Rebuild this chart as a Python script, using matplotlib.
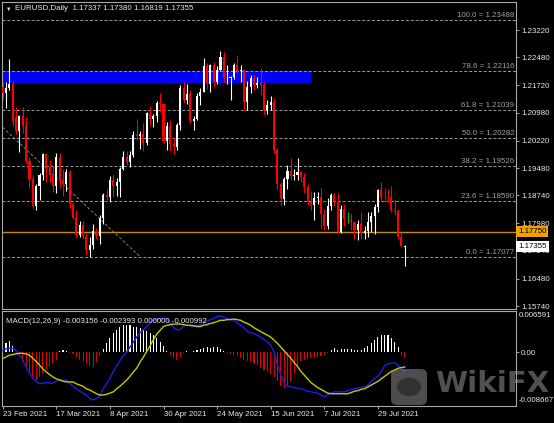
import matplotlib
matplotlib.use("Agg")
import matplotlib.pyplot as plt
import matplotlib.transforms as mtransforms
from matplotlib.patches import Rectangle, FancyBboxPatch, Circle

plt.rcParams['font.family'] = ['Liberation Sans', 'DejaVu Sans']

# ---- data --------------------------------------------------------------
date_labels = ["23 Feb 2021", "17 Mar 2021", "8 Apr 2021", "30 Apr 2021",
               "24 May 2021", "15 Jun 2021", "7 Jul 2021", "29 Jul 2021"]
date_bars = [0, 16, 32, 48, 64, 80, 96, 112]

opens = [
    1.2168, 1.2150, 1.2166, 1.2176, 1.2085, 1.2048, 1.2090, 1.2063, 1.1967, 1.1917,
    1.1846, 1.1899, 1.1928, 1.1985, 1.1952, 1.1930, 1.1900, 1.1977, 1.1915, 1.1904,
    1.1938, 1.1850, 1.1813, 1.1766, 1.1793, 1.1763, 1.1725, 1.1738, 1.1778, 1.1763,
    1.1813, 1.1874, 1.1870, 1.1915, 1.1900, 1.1910, 1.1946, 1.1979, 1.1965, 1.1982,
    1.2037, 1.2035, 1.2040, 1.2015, 1.2098, 1.2081, 1.2089, 1.2125, 1.2121, 1.2021,
    1.2062, 1.2013, 1.2004, 1.2065, 1.2164, 1.2132, 1.2149, 1.2075, 1.2080, 1.2144,
    1.2154, 1.2224, 1.2175, 1.2226, 1.2180, 1.2214, 1.2250, 1.2192, 1.2193, 1.2194,
    1.2227, 1.2211, 1.2213, 1.2127, 1.2167, 1.2193, 1.2173, 1.2179, 1.2174, 1.2106,
    1.2120, 1.2126, 1.1996, 1.1906, 1.1863, 1.1918, 1.1941, 1.1925, 1.1930, 1.1937,
    1.1924, 1.1896, 1.1857, 1.1848, 1.1866, 1.1870, 1.1823, 1.1790, 1.1845, 1.1875,
    1.1859, 1.1775, 1.1838, 1.1809, 1.1807, 1.1802, 1.1781, 1.1796, 1.1771, 1.1776,
    1.1801, 1.1817, 1.1842, 1.1888, 1.1870, 1.1869, 1.1867, 1.1835, 1.1832, 1.1762,
    1.17337]
highs = [
    1.2180, 1.2180, 1.2243, 1.2183, 1.2113, 1.2093, 1.2113, 1.2085, 1.1977, 1.1930,
    1.1905, 1.1935, 1.1990, 1.1990, 1.1970, 1.1953, 1.1988, 1.1990, 1.1945, 1.1944,
    1.1942, 1.1857, 1.1835, 1.1805, 1.1805, 1.1772, 1.1762, 1.1795, 1.1785, 1.1820,
    1.1880, 1.1892, 1.1927, 1.1930, 1.1920, 1.1950, 1.1995, 1.1994, 1.1995, 1.2049,
    1.2080, 1.2048, 1.2070, 1.2100, 1.2117, 1.2094, 1.2130, 1.2150, 1.2125, 1.2074,
    1.2078, 1.2032, 1.2071, 1.2173, 1.2181, 1.2177, 1.2160, 1.2090, 1.2150, 1.2165,
    1.2245, 1.2233, 1.2230, 1.2236, 1.2225, 1.2266, 1.2262, 1.2226, 1.2198, 1.2233,
    1.2255, 1.2228, 1.2216, 1.2185, 1.2200, 1.2200, 1.2195, 1.2218, 1.2182, 1.2133,
    1.2143, 1.2138, 1.2003, 1.1910, 1.1923, 1.1955, 1.1975, 1.1945, 1.1975, 1.1940,
    1.1935, 1.1905, 1.1885, 1.1882, 1.1884, 1.1895, 1.1838, 1.1868, 1.1880, 1.1880,
    1.1880, 1.1847, 1.1850, 1.1830, 1.1825, 1.1805, 1.1808, 1.1830, 1.1790, 1.1830,
    1.1830, 1.1850, 1.1892, 1.1909, 1.1893, 1.1891, 1.1900, 1.1865, 1.1838, 1.1775,
    1.17380]
lows = [
    1.2134, 1.2110, 1.2160, 1.2062, 1.2040, 1.1991, 1.2042, 1.1962, 1.1893, 1.1836,
    1.1835, 1.1860, 1.1915, 1.1910, 1.1910, 1.1882, 1.1880, 1.1895, 1.1873, 1.1885,
    1.1840, 1.1810, 1.1762, 1.1761, 1.1755, 1.1712, 1.17077, 1.1728, 1.1755, 1.1742,
    1.1795, 1.1860, 1.1857, 1.1870, 1.1871, 1.1870, 1.1942, 1.1955, 1.1952, 1.1978,
    1.2025, 1.2000, 1.1995, 1.2010, 1.2065, 1.2058, 1.2072, 1.2100, 1.2017, 1.1998,
    1.1995, 1.1987, 1.1996, 1.2050, 1.2125, 1.2122, 1.2070, 1.2052, 1.2078, 1.2118,
    1.2153, 1.2162, 1.2155, 1.2168, 1.2175, 1.2210, 1.2180, 1.2175, 1.2133, 1.2188,
    1.2205, 1.2180, 1.2105, 1.2104, 1.2150, 1.2160, 1.2165, 1.2145, 1.2093, 1.2095,
    1.2105, 1.1990, 1.1892, 1.1847, 1.1848, 1.1891, 1.1915, 1.1915, 1.1916, 1.1910,
    1.1880, 1.1847, 1.1835, 1.1807, 1.1850, 1.1782, 1.1780, 1.1782, 1.1835, 1.1845,
    1.1772, 1.1772, 1.1792, 1.1800, 1.1780, 1.1755, 1.1752, 1.1755, 1.1755, 1.1760,
    1.1775, 1.1770, 1.1830, 1.1858, 1.1857, 1.1855, 1.1830, 1.1820, 1.1755, 1.1735,
    1.16819]
closes = [
    1.2150, 1.2166, 1.2176, 1.2075, 1.2048, 1.2090, 1.2063, 1.1967, 1.1917, 1.1846,
    1.1899, 1.1928, 1.1985, 1.1952, 1.1930, 1.1900, 1.1977, 1.1915, 1.1904, 1.1938,
    1.1850, 1.1813, 1.1766, 1.1793, 1.1763, 1.1727, 1.1738, 1.1778, 1.1763, 1.1813,
    1.1874, 1.1870, 1.1915, 1.1900, 1.1910, 1.1946, 1.1979, 1.1965, 1.1982, 1.2037,
    1.2035, 1.2040, 1.2015, 1.2098, 1.2081, 1.2089, 1.2125, 1.2121, 1.2021, 1.2062,
    1.2013, 1.2004, 1.2065, 1.2164, 1.2132, 1.2149, 1.2075, 1.2080, 1.2144, 1.2154,
    1.2224, 1.2175, 1.2226, 1.2180, 1.2214, 1.2250, 1.2192, 1.2193, 1.2194, 1.2227,
    1.2211, 1.2213, 1.2127, 1.2167, 1.2193, 1.2173, 1.2179, 1.2174, 1.2106, 1.2120,
    1.2126, 1.1996, 1.1906, 1.1863, 1.1918, 1.1941, 1.1925, 1.1930, 1.1937, 1.1924,
    1.1896, 1.1857, 1.1848, 1.1866, 1.1870, 1.1823, 1.1790, 1.1845, 1.1875, 1.1859,
    1.1775, 1.1838, 1.1811, 1.1809, 1.1802, 1.1781, 1.1796, 1.1771, 1.1776, 1.1801,
    1.1817, 1.1842, 1.1888, 1.1870, 1.1869, 1.1867, 1.1835, 1.1832, 1.1762, 1.1736,
    1.17355]

fib_names = ["100.0", "78.6", "61.8", "50.0", "38.2", "23.6", "0.0"]
fib_prices = [1.23488, 1.22116, 1.21039, 1.20282, 1.19526, 1.18590, 1.17077]
fib_anchor_bars = [-34, 41]

zone_top, zone_bottom, zone_end_bar = 1.22116, 1.21792, 92
orange_level = 1.17750
last_price = 1.17355
price_ticks = [1.23220, 1.22480, 1.21720, 1.20980, 1.20220, 1.19480,
               1.18740, 1.17980, 1.17240, 1.16480, 1.15740]

macd_hist = [
    0.0010, 0.0014, 0.0017, 0.0010, -0.0002, -0.0008, -0.0016, -0.0026, -0.0036, -0.0044,
    -0.0045, -0.0040, -0.0033, -0.0028, -0.0024, -0.0018, -0.0012, 0.0002, 0.0003, 0.0002,
    -0.0001, -0.0003, -0.0008, -0.0012, -0.0015, -0.0018, -0.0022, -0.0024, -0.0016, -0.0006,
    0.0005, 0.0014, 0.0022, 0.0030, 0.0036, 0.0040, 0.0043, 0.0044, 0.0043, 0.0041,
    0.0040, 0.0039, 0.0037, 0.0034, 0.0031, 0.0027, 0.0022, 0.0016, 0.0010, 0.0001,
    -0.0004, -0.0010, -0.0012, -0.0008, -0.0001, 0.0002, 0.0000, 0.0001, 0.0003, 0.0005,
    0.0007, 0.0008, 0.0007, 0.0008, 0.0008, 0.0005, 0.0001, -0.0001, -0.0003, -0.0005,
    -0.0007, -0.0010, -0.0012, -0.0014, -0.0016, -0.0018, -0.0021, -0.0025, -0.0029, -0.0032,
    -0.0036, -0.0040, -0.0046, -0.0055, -0.0058, -0.0056, -0.0046, -0.0034, -0.0022, -0.0015,
    -0.0012, -0.0011, -0.0010, -0.0009, -0.0008, -0.0007, -0.0004, -0.0001, 0.0003, 0.0006,
    0.0004, 0.0005, 0.0005, 0.0005, 0.0005, 0.0004, 0.0004, 0.0004, 0.0006, 0.0009,
    0.0014, 0.0019, 0.0024, 0.0027, 0.0028, 0.0027, 0.0022, 0.0016, 0.0008, -0.0004,
    -0.000992]
macd_main = [
    0.0003, 0.0005, 0.0006, 0.0006, 0.0002, -0.0005, -0.0013, -0.0024, -0.0034, -0.0042,
    -0.0047, -0.0051, -0.0050, -0.0049, -0.0050, -0.0050, -0.0047, -0.0045, -0.0045, -0.0045,
    -0.0050, -0.0055, -0.0059, -0.0063, -0.0066, -0.0069, -0.0075, -0.0077, -0.0075, -0.0070,
    -0.0059, -0.0051, -0.0042, -0.0032, -0.0022, -0.0014, -0.0006, 0.0000, 0.0008, 0.0016,
    0.0024, 0.0031, 0.0036, 0.0041, 0.0047, 0.0051, 0.0053, 0.0054, 0.0054, 0.0054,
    0.0047, 0.0039, 0.0036, 0.0036, 0.0042, 0.0043, 0.0042, 0.0041, 0.0043, 0.0043,
    0.0047, 0.0050, 0.0052, 0.0054, 0.0057, 0.0058, 0.0056, 0.0054, 0.0053, 0.0051,
    0.0047, 0.0043, 0.0039, 0.0033, 0.0031, 0.0030, 0.0027, 0.0024, 0.0020, 0.0016,
    0.0011, 0.0000, -0.0021, -0.0037, -0.0050, -0.0054, -0.0056, -0.0057, -0.0058, -0.0059,
    -0.0061, -0.0063, -0.0064, -0.0065, -0.0066, -0.0069, -0.0072, -0.0069, -0.0066, -0.0064,
    -0.0064, -0.0064, -0.0064, -0.0062, -0.0060, -0.0059, -0.0058, -0.0057, -0.0056, -0.0053,
    -0.0047, -0.0043, -0.0039, -0.0031, -0.0022, -0.0019, -0.0018, -0.0017, -0.0021, -0.0026,
    -0.003156]
macd_signal = [
    -0.0010, -0.0008, -0.0005, -0.0004, -0.0003, -0.0002, -0.0002, -0.0003, -0.0005, -0.0010,
    -0.0015, -0.0021, -0.0027, -0.0032, -0.0036, -0.0040, -0.0043, -0.0045, -0.0047, -0.0048,
    -0.0048, -0.0048, -0.0051, -0.0053, -0.0055, -0.0059, -0.0061, -0.0064, -0.0067, -0.0069,
    -0.0069, -0.0068, -0.0066, -0.0064, -0.0059, -0.0055, -0.0050, -0.0045, -0.0039, -0.0032,
    -0.0026, -0.0016, -0.0008, 0.0001, 0.0010, 0.0020, 0.0029, 0.0035, 0.0041, 0.0043,
    0.0044, 0.0045, 0.0045, 0.0045, 0.0044, 0.0043, 0.0043, 0.0042, 0.0041, 0.0041,
    0.0043, 0.0044, 0.0046, 0.0047, 0.0049, 0.0051, 0.0051, 0.0052, 0.0052, 0.0053,
    0.0052, 0.0051, 0.0048, 0.0046, 0.0043, 0.0039, 0.0036, 0.0033, 0.0030, 0.0027,
    0.0024, 0.0019, 0.0014, 0.0008, 0.0002, -0.0004, -0.0010, -0.0017, -0.0023, -0.0031,
    -0.0037, -0.0043, -0.0049, -0.0053, -0.0057, -0.0060, -0.0063, -0.0066, -0.0067, -0.0067,
    -0.0067, -0.0067, -0.0067, -0.0067, -0.0065, -0.0063, -0.0062, -0.0060, -0.0059, -0.0056,
    -0.0053, -0.0050, -0.0047, -0.0043, -0.0039, -0.0035, -0.0031, -0.0029, -0.0026, -0.0025,
    -0.002393]
macd_max, macd_min = 0.006591, -0.008667

# ---- figure --------------------------------------------------------------
W, H = 554, 423
fig = plt.figure(figsize=(W / 100, H / 100), dpi=100, facecolor='black')
fg = '#e8e8e8'
border = '#a8a8a8'
fs = 5.7

ax = fig.add_axes([2 / W, 1 - 309 / H, 514 / W, 307 / H], facecolor='black')
ax2 = fig.add_axes([2 / W, 1 - 406 / H, 514 / W, 95 / H], facecolor='black', sharex=ax)

xmin, xmax = -0.2, 153.2
ax.set_xlim(xmin, xmax)
ax.set_ylim(1.15659, 1.23979)
ax2.set_ylim(macd_min, macd_max)

for a in (ax, ax2):
    for s in a.spines.values():
        s.set_color(border)
        s.set_linewidth(0.8)

# zone rectangle
ax.add_patch(Rectangle((xmin - 1, zone_bottom), zone_end_bar - xmin + 1,
                       zone_top - zone_bottom, facecolor='#0000ff',
                       edgecolor='none', zorder=1))

# fibonacci levels
for name, p in zip(fib_names, fib_prices):
    ax.axhline(p, color='#9a9a9a', lw=0.7, ls=(0, (3, 2)), zorder=2)
    ax.text(152.7, p + 0.0003, f"{name} = {p:.5f}", ha='right', va='bottom',
            fontsize=fs, color='#a0a0a0', zorder=3)
ax.plot(fib_anchor_bars, [fib_prices[0], fib_prices[-1]], color='#808080',
        lw=0.7, ls=(0, (3, 2)), zorder=2)

# orange level
ax.axhline(orange_level, color='#c88a00', lw=1.0, zorder=2)

# candles
for i, (o, h, l, c) in enumerate(zip(opens, highs, lows, closes)):
    if c > o:
        col = 'white'
    elif c < o:
        col = '#ff0000'
    else:
        col = '#00c000'
    ax.vlines(i, l, h, color=col, lw=0.8, zorder=4)
    body = max(abs(c - o), 0.00012)
    ax.bar(i, body, bottom=min(o, c), width=0.62, color=col, lw=0, zorder=5)

# price axis on the right
ax.yaxis.tick_right()
ax.set_yticks(price_ticks)
ax.set_yticklabels([f"{p:.5f}" for p in price_ticks])
ax.tick_params(axis='y', colors=border, labelcolor=fg, labelsize=fs,
               length=2.2, width=0.7, pad=1.5)
ax.tick_params(axis='x', bottom=False, labelbottom=False)

blend = mtransforms.blended_transform_factory(ax.transAxes, ax.transData)
ax.text(1.004, orange_level, "1.17750", transform=blend, ha='left', va='center',
        fontsize=fs, color='black', zorder=10,
        bbox=dict(boxstyle='square,pad=0.25', fc='#f0a000', ec='none'))
ax.text(1.004, last_price, "1.17355", transform=blend, ha='left', va='center',
        fontsize=fs, color='black', zorder=10,
        bbox=dict(boxstyle='square,pad=0.25', fc='white', ec='none'))

# MACD panel
for i, v in enumerate(macd_hist):
    ax2.bar(i, v, width=0.32, color='white' if v > 0 else '#e00000', lw=0, zorder=2)
xs = list(range(len(macd_main)))
ax2.plot(xs, macd_main, color='#1c1cf0', lw=1.0, zorder=3)
ax2.plot(xs, macd_signal, color='#c8c800', lw=1.0, zorder=3)

ax2.yaxis.tick_right()
ax2.set_yticks([0.0])
ax2.set_yticklabels(["0.00"])
ax2.tick_params(axis='y', colors=border, labelcolor=fg, labelsize=fs,
                length=2.2, width=0.7, pad=1.5)
ax2.text(1.006, 0.985, f"{macd_max:.6f}", transform=ax2.transAxes, ha='left',
         va='top', fontsize=fs, color=fg)
ax2.text(1.006, 0.02, f"{macd_min:.6f}", transform=ax2.transAxes, ha='left',
         va='bottom', fontsize=fs, color=fg)
ax2.text(0.008, 0.93, "MACD(12,26,9) -0.003156 -0.002393 0.000000 -0.000992",
         transform=ax2.transAxes, ha='left', va='top', fontsize=fs, color=fg)

ax2.set_xticks(date_bars)
ax2.set_xticklabels(date_labels)
for lab in ax2.get_xticklabels():
    lab.set_horizontalalignment('left')
ax2.tick_params(axis='x', colors=border, labelcolor=fg, labelsize=fs,
                length=2.5, width=0.7, pad=1.2)

# header
fig.text(6 / W, 1 - 9 / H, "\u25bc", fontsize=4, color=fg, va='center', ha='left')
fig.text(15 / W, 1 - 9 / H, "EURUSD,Daily  1.17337 1.17380 1.16819 1.17355",
         fontsize=fs, color=fg, va='center', ha='left')

# watermark
fig.patches.append(FancyBboxPatch((391 / W, 1 - 405 / H), 36 / W, 36 / H,
                                  boxstyle='round,pad=0,rounding_size=0.012',
                                  transform=fig.transFigure, fc='#9a9a9a',
                                  ec='none', alpha=0.5, zorder=20))
fig.patches.append(Circle((409 / W, 1 - 387 / H), 12 / W, transform=fig.transFigure,
                          fc='#202020', ec='none', alpha=0.6, zorder=21))
fig.text(435 / W, 1 - 384 / H, "WikiFX", fontsize=21, fontweight='bold',
         family='DejaVu Sans', color='#a0a0a0', alpha=0.5, va='center',
         ha='left', zorder=20)

fig.savefig("out.png", dpi=100, facecolor='black')
